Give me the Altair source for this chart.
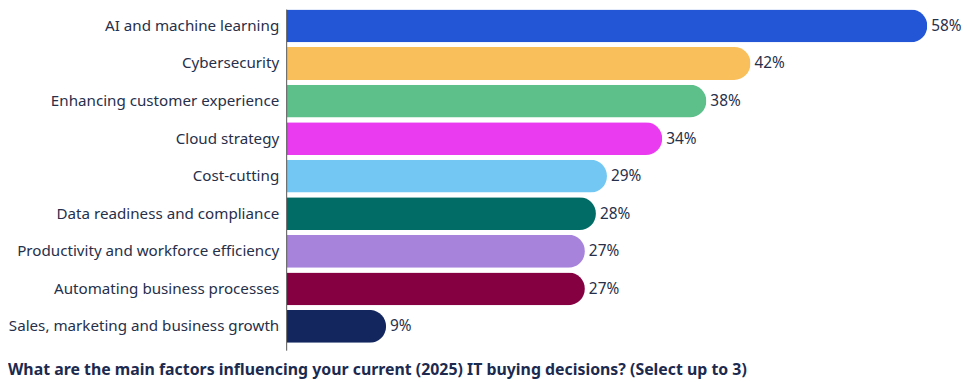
import altair as alt
import pandas as pd

categories = [
    "AI and machine learning",
    "Cybersecurity",
    "Enhancing customer experience",
    "Cloud strategy",
    "Cost-cutting",
    "Data readiness and compliance",
    "Productivity and workforce efficiency",
    "Automating business processes",
    "Sales, marketing and business growth",
]
values = [58, 42, 38, 34, 29, 28, 27, 27, 9]
colors = ["#2356d6", "#f9bf5a", "#5dbf8a", "#ea3bf0", "#72c8f3",
          "#016b65", "#a783dc", "#840040", "#13275e"]
title_text = "What are the main factors influencing your current (2025) IT buying decisions? (Select up to 3)"

df = pd.DataFrame({"factor": categories, "pct": values})
df["label"] = df["pct"].astype(str) + "%"

FONT = "Noto Sans"
TEXT_COLOR = "#27304a"

x = alt.X("pct:Q", scale=alt.Scale(domain=[0, 58], nice=False), axis=None)
y = alt.Y("factor:N", sort=categories,
          scale=alt.Scale(paddingInner=0.126, paddingOuter=0),
          axis=alt.Axis(title=None, domain=False, ticks=False, labelPadding=8,
                        labelFontSize=15.3, labelColor=TEXT_COLOR, labelFont=FONT,
                        labelLimit=300))

bars = alt.Chart(df).mark_bar(cornerRadiusEnd=16.5).encode(
    x=x, y=y,
    color=alt.Color("factor:N", scale=alt.Scale(domain=categories, range=colors), legend=None),
)

labels = alt.Chart(df).mark_text(align="left", baseline="middle", dx=4,
                                 fontSize=15.5, font=FONT, color=TEXT_COLOR).encode(
    x=x, y=y, text="label:N"
)

rule = alt.Chart(df.head(1)).mark_rule(color="#555555", strokeWidth=1).encode(
    x=alt.value(0), y=alt.value(0), y2=alt.value(344)
)

title = alt.Chart(pd.DataFrame({"t": [title_text]})).mark_text(
    align="left", baseline="middle", fontSize=16, fontWeight="bold",
    font=FONT, color="#1c2a4f"
).encode(x=alt.value(-281), y=alt.value(364), text="t:N")

chart = alt.layer(bars, labels, rule, title).properties(
    width=646, height=336,
    autosize=alt.AutoSizeParams(type="none"),
    padding={"left": 281, "top": 0, "right": 35, "bottom": 38},
).configure_view(stroke=None)

chart.save("out.html", embed_options={"renderer": "svg", "actions": False})
